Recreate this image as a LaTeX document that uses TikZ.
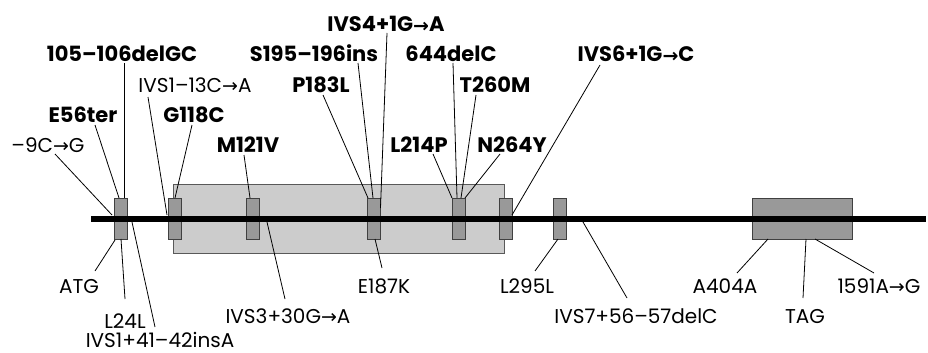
\documentclass[tikz,border=0pt]{standalone}
\usepackage{fontspec}
\setmainfont{Poppins}
\newfontfamily\arrfont{DejaVu Sans}
\newcommand{\rarr}{{\arrfont\fontsize{19pt}{19pt}\selectfont\raisebox{-0.5pt}{→}}}
\begin{document}
\begin{tikzpicture}[x=1pt,y=-1pt,
  lab/.style={inner sep=0pt,anchor=base,font=\fontsize{20pt}{20pt}\selectfont},
  blab/.style={lab,font=\fontsize{21pt}{21pt}\selectfont\bfseries},
  conn/.style={line width=0.8pt},
  exon/.style={draw=black!75,fill=black!40,line width=0.8pt},
  region/.style={draw=black!65,fill=black!20,line width=0.8pt}]
\useasboundingbox (0,0) rectangle (928,353);
% boxes
\draw[region] (173,184) rectangle (504,253);
\foreach \n/\a/\b in {e1/114/127,e2/168/181,e3/246/259,e4/367/380,e5/452/465,e6/499/512,e7/553/566}{
  \draw[exon] (\a,198) rectangle (\b,239) node[pos=0.5,inner sep=0pt] (\n) {};
}
\draw[exon] (752,198) rectangle (852,239) node[pos=0.5,inner sep=0pt] (e8) {};
\coordinate (l0) at (91,219);
\coordinate (l1) at (926,219);
\draw[line width=6pt] (l0) -- (l1);
% top labels
\node[lab]  (t1) at (48,152) {–9C\rarr G};
\node[blab] (t2) at (83,122) {E56ter};
\node[blab] (t3) at (122,62) {105–106delGC};
\node[lab]  (t4) at (195,92) {IVS1–13C\rarr A};
\node[blab] (t5) at (194,122) {G118C};
\node[blab] (t6) at (248,152) {M121V};
\node[blab] (t7) at (314,62) {S195–196ins};
\node[blab] (t8) at (321,92) {P183L};
\node[blab] (t9) at (386,32) {IVS4+1G\rarr A};
\node[blab] (t10) at (451,62) {644delC};
\node[blab] (t11) at (495,92) {T260M};
\node[blab] (t12) at (419,152) {L214P};
\node[blab] (t13) at (512,152) {N264Y};
\node[blab] (t14) at (636,62) {IVS6+1G\rarr C};
% bottom labels
\node[lab] (b1) at (79,293) {ATG};
\node[lab] (b2) at (125,328) {L24L};
\node[lab] (b3) at (160,347) {IVS1+41–42insA};
\node[lab] (b4) at (288,323) {IVS3+30G\rarr A};
\node[lab] (b5) at (384,293) {E187K};
\node[lab] (b6) at (527,293) {L295L};
\node[lab] (b7) at (636,323) {IVS7+56–57delC};
\node[lab] (b8) at (725,293) {A404A};
\node[lab] (b9) at (805,323) {TAG};
\node[lab] (b10) at (879,293) {1591A\rarr G};
% connector start points
\foreach \n/\x/\y in {s1/55/154,s2/95/125,s3/124/63,s4/148/97,s5/192/125,s6/244/155,
  s7/358/63,s8/323/95,s9/387/33,s10/453/63,s11/476/95,s12/433/154,s13/500/154,s14/600/65,
  u1/95/271,u2/125/299,u3/155/327,u4/285/299,u5/382/268,u6/535/271,u7/627/298,u8/737/273,u9/803/298,u10/874/273}
  {\coordinate (\n) at (\x,\y);}
% connector end points
\foreach \n/\x/\y in {d1/112/215,d2/119/198,d3/124/198,d4/167/215,d5/175/198,d6/250/198,
  d7/373/198,d8/368/198,d9/380.5/208,d10/457/198,d11/461/198,d12/452/198,d13/465/198,d14/512/215,
  f1/115/240,f2/121/239,f3/132/222,f4/267/222,f5/375/239,f6/558/239,f7/583/222,f8/768/239,f9/806/239,f10/815/239}
  {\coordinate (\n) at (\x,\y);}
\foreach \i in {1,...,14}{\draw[conn] (s\i) -- (d\i);}
\foreach \i in {1,...,10}{\draw[conn] (u\i) -- (f\i);}
\end{tikzpicture}
\end{document}
